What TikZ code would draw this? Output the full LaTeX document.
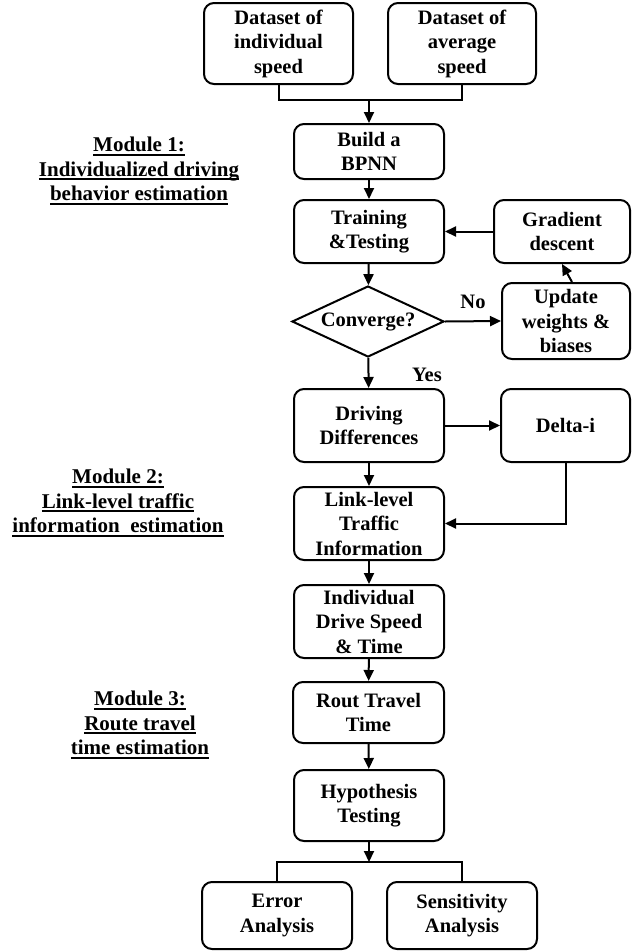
\documentclass[tikz,border=0pt]{standalone}
\usepackage{fontspec}
\setmainfont{Liberation Serif}
\usetikzlibrary{shapes.geometric,arrows.meta,calc}
\newcommand\ulline[1]{\setbox0\hbox{#1}\rlap{\rule[-4pt]{\wd0}{1.8pt}}\box0}
\begin{document}
\begin{tikzpicture}[x=1pt,y=-1pt,
  procbox/.style={draw,line width=2pt,rounded corners=10pt,inner sep=0pt,align=center,
    font={\fontsize{20.5}{24.5}\selectfont\bfseries}},
  decbox/.style={draw,diamond,line width=2pt,inner sep=0pt,aspect=2.14,
    minimum width=152pt,minimum height=71pt,font={\fontsize{20.5}{24.5}\selectfont\bfseries}},
  lbl/.style={inner sep=0pt,font={\fontsize{20.5}{24.5}\selectfont\bfseries}},
  modlbl/.style={inner sep=0pt,align=center,font={\fontsize{21}{24.5}\selectfont\bfseries}},
  ln/.style={line width=2pt},
  arr/.style={line width=2pt,-{Triangle[length=11pt,width=10pt]}}]
\useasboundingbox (0,0) rectangle (632,951);

% nodes
\node[procbox,minimum width=149pt,minimum height=81pt] (ds1) at (278.5,43.5) {Dataset of\\individual\\speed};
\node[procbox,minimum width=148pt,minimum height=81pt] (ds2) at (462,43.5) {Dataset of\\average\\speed};
\node[procbox,minimum width=150pt,minimum height=55pt] (build) at (369,151.5) {Build a\\BPNN};
\node[procbox,minimum width=150pt,minimum height=63pt] (train) at (369,231.5) {Training\\\&Testing};
\node[procbox,minimum width=136pt,minimum height=63pt] (grad) at (562,231.5) {Gradient\\descent};
\node[decbox] (conv) at (368,321.5) {Converge?};
\node[procbox,minimum width=128pt,minimum height=76pt] (upd) at (566,321) {Update\\weights \&\\biases};
\node[procbox,minimum width=150pt,minimum height=73pt] (drive) at (369,425.5) {Driving\\Differences};
\node[procbox,minimum width=129pt,minimum height=73pt] (delta) at (565.5,425.5) {Delta-i};
\node[procbox,minimum width=150pt,minimum height=73pt] (link) at (369,523.5) {Link-level\\Traffic\\Information};
\node[procbox,minimum width=150pt,minimum height=73pt] (indiv) at (369,621.5) {Individual\\Drive Speed\\\& Time};
\node[procbox,minimum width=151pt,minimum height=61pt] (rout) at (368.5,712.5) {Rout Travel\\Time};
\node[procbox,minimum width=150pt,minimum height=71pt] (hyp) at (369,805.5) {Hypothesis\\Testing};
\node[procbox,minimum width=150pt,minimum height=67pt] (err) at (277,915.5) {Error\\Analysis};
\node[procbox,minimum width=150pt,minimum height=67pt] (sens) at (462,915.5) {Sensitivity\\Analysis};

\node[lbl] (no) at (473,302) {No};
\node[lbl] (yes) at (427,375) {Yes};

\node[modlbl] (m1) at (139,171) {\ulline{Module 1:}\\\ulline{Individualized driving}\\\ulline{behavior estimation}};
\node[modlbl] (m2) at (118,503) {\ulline{Module 2:}\\\ulline{Link-level traffic}\\\ulline{information\ \ estimation}};
\node[modlbl] (m3) at (140,725) {\ulline{Module 3:}\\\ulline{Route travel}\\\ulline{time estimation}};

% connectors
\coordinate (jt) at (369,100);
\draw[ln] (ds1.south) |- (jt) -| (ds2.south);
\draw[arr] (jt) -- (build.north);
\draw[arr] (build) -- (train);
\draw[arr] (grad.west) -- (train.east);
\draw[arr] (train) -- (conv);
\draw[arr] (conv.east) -- (upd.west);
\draw[arr] ($(upd.north)+(6,0)$) -- (grad.south);
\draw[arr] (conv) -- (drive);
\draw[arr] (drive.east) -- (delta.west);
\draw[arr] (delta.south) |- (link.east);
\draw[arr] (drive) -- (link);
\draw[arr] (link) -- (indiv);
\draw[arr] (indiv) -- (rout);
\draw[arr] (rout) -- (hyp);
\coordinate (jb) at (369,862);
\draw[arr] (hyp) -- (jb);
\draw[ln] (err.north) |- (jb) -| (sens.north);
\end{tikzpicture}
\end{document}
